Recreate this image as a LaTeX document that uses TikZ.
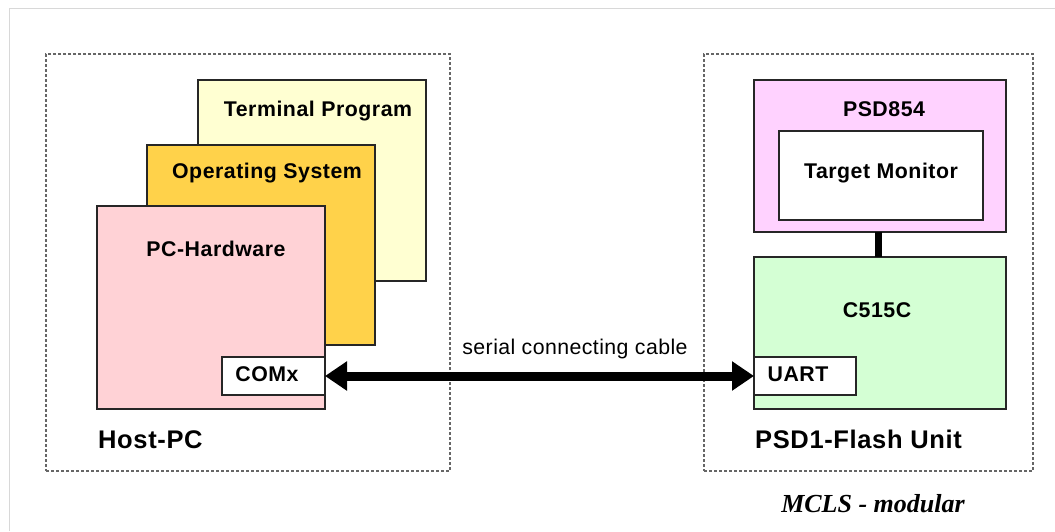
\documentclass[tikz,border=0pt]{standalone}
\usepackage{fontspec}
\setmainfont{Liberation Sans}
\newfontfamily\lblfont[LetterSpace=2.5]{Liberation Sans}
\newfontfamily\cablefont[LetterSpace=2]{Liberation Sans}
\newfontfamily\bigfont[LetterSpace=2.5]{Liberation Sans}
\newfontfamily\capfont{Liberation Serif}
\usetikzlibrary{arrows.meta}
\definecolor{termfill}{HTML}{FFFFD2}
\definecolor{osfill}{HTML}{FFD24A}
\definecolor{hwfill}{HTML}{FFD2D6}
\definecolor{psdfill}{HTML}{FFD2FF}
\definecolor{cfill}{HTML}{D4FFD4}
\definecolor{framegray}{HTML}{666666}
\definecolor{outergray}{HTML}{D8D8D8}
\tikzset{
  layerbox/.style={draw=black!85, line width=1.6pt, inner sep=0pt, outer sep=0pt, anchor=north west},
  groupframe/.style={draw=framegray, line width=1.1pt, dash pattern=on 3pt off 2pt, inner sep=0pt, outer sep=0pt, anchor=north west},
  lbl/.style={font=\lblfont\bfseries\fontsize{21.3}{25}\selectfont, inner sep=0pt, anchor=base},
  biglbl/.style={font=\bigfont\bfseries\fontsize{25.5}{30}\selectfont, inner sep=0pt, anchor=base west},
  cable/.style={line width=9pt, {Triangle[length=22pt,width=28pt]}-{Triangle[length=22pt,width=28pt]}},
  link/.style={line width=7pt}
}
\begin{document}
\begin{tikzpicture}[x=1pt,y=-1pt]
\useasboundingbox[fill=white] (0,0) rectangle (1055,531);
% outer light frame
\draw[outergray, line width=1pt] (9.5,531) -- (9.5,8.5) -- (1055,8.5);

% group frames
\node[groupframe, minimum width=404pt, minimum height=417pt] (hostframe) at (46,54) {};
\node[groupframe, minimum width=329pt, minimum height=417pt] (unitframe) at (704,54) {};

% host stack
\node[layerbox, fill=termfill, minimum width=228pt, minimum height=201pt] (term) at (198,80) {};
\node[layerbox, fill=osfill, minimum width=228pt, minimum height=200pt] (os) at (147,145) {};
\node[layerbox, fill=hwfill, minimum width=228pt, minimum height=203pt] (hw) at (97,206) {};
\node[layerbox, fill=white, minimum width=103pt, minimum height=38pt] (comx) at (222,357) {};

\node[lbl] (termlbl) at (318,116.5) {Terminal Program};
\node[lbl] (oslbl) at (267,178) {Operating System};
\node[lbl] (hwlbl) at (216,256) {PC-Hardware};
\node[lbl] (comxlbl) at (267,381) {COMx};
\node[biglbl] (hostlbl) at (98,448) {Host-PC};

% unit
\node[layerbox, fill=psdfill, minimum width=252pt, minimum height=152pt] (psd) at (754,80) {};
\node[layerbox, fill=white, minimum width=204pt, minimum height=89pt] (mon) at (779,131) {};
\node[layerbox, fill=cfill, minimum width=252pt, minimum height=152pt] (cpu) at (754,257) {};
\node[layerbox, fill=white, minimum width=102pt, minimum height=38pt] (uart) at (754,357) {};

\node[lbl] (psdlbl) at (884,116.5) {PSD854};
\node[lbl] (monlbl) at (881,178) {Target Monitor};
\node[lbl] (cpulbl) at (877,317.5) {C515C};
\node[lbl] (uartlbl) at (798,381) {UART};
\node[biglbl] (unitlbl) at (755,448) {PSD1-Flash Unit};

% link between PSD854 and C515C
\coordinate (linktop) at (878,232);
\coordinate (linkbot) at (878,257);
\draw[link] (linktop) -- (linkbot);

% serial cable
\draw[cable] (comx.east) -- (uart.west);
\node[font=\cablefont\fontsize{21.3}{25}\selectfont, inner sep=0pt, anchor=base] (cablelbl) at (575,354) {serial connecting cable};

% caption
\node[font=\capfont\bfseries\itshape\fontsize{26}{30}\selectfont, inner sep=0pt, anchor=base] (caption) at (873,512) {MCLS - modular};
\end{tikzpicture}
\end{document}
